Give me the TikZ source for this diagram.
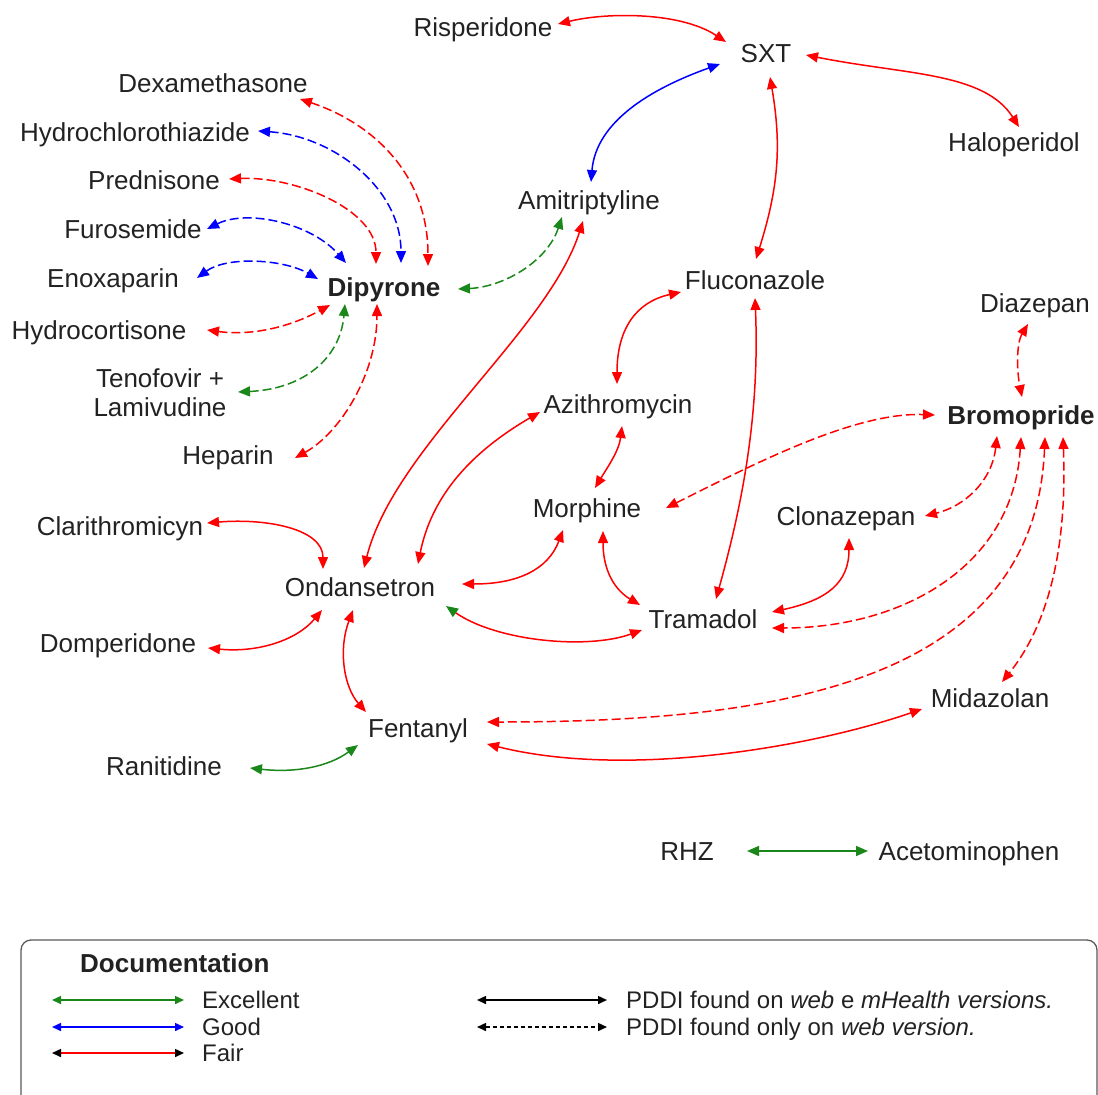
\documentclass[tikz,border=0pt]{standalone}
\usepackage{fontspec}
\setmainfont{Liberation Sans}
\usetikzlibrary{arrows.meta,calc}
\definecolor{cred}{RGB}{255,0,0}
\definecolor{cblue}{RGB}{0,0,255}
\definecolor{cgreen}{RGB}{25,135,25}
\definecolor{ctext}{RGB}{34,34,34}
\begin{document}
\begin{tikzpicture}[x=1pt,y=1pt,
  lbl/.style={font=\fontsize{26}{29}\selectfont, text=ctext, inner sep=0pt, anchor=base},
  blbl/.style={lbl, font=\fontsize{26}{29}\selectfont\bfseries},
  edge/.style={line width=1.5pt, >={Triangle[length=12pt,width=10pt]}, <->},
  dsh/.style={dash pattern=on 9pt off 4pt},
  fair/.style={edge, draw=cred},
  good/.style={edge, draw=cblue},
  exc/.style={edge, draw=cgreen},
  legt/.style={font=\fontsize{24}{28}\selectfont, text=ctext, inner sep=0pt, anchor=base west},
  legarr/.style={line width=1.5pt, >={Triangle[length=9pt,width=8pt]}, <->},
]
\useasboundingbox (0,0) rectangle (1098,-1095);
\clip (0,0) rectangle (1098,-1095);

% nodes
\node[lbl] (ris) at (483,-36) {Risperidone};
\node[lbl] (sxt) at (766,-62) {SXT};
\node[lbl] (hal) at (1014,-151) {Haloperidol};
\node[lbl] (dex) at (213,-92) {Dexamethasone};
\node[lbl] (hct) at (135,-141) {Hydrochlorothiazide};
\node[lbl] (pre) at (154,-189) {Prednisone};
\node[lbl] (fur) at (133,-238) {Furosemide};
\node[lbl] (eno) at (113,-287) {Enoxaparin};
\node[blbl] (dip) at (384,-296) {Dipyrone};
\node[lbl] (hyd) at (99,-339) {Hydrocortisone};
\node[lbl, anchor=center, align=center] (ten) at (160,-393) {Tenofovir +\\Lamivudine};
\node[lbl] (hep) at (228,-464) {Heparin};
\node[lbl] (ami) at (589,-209) {Amitriptyline};
\node[lbl] (flu) at (755,-289) {Fluconazole};
\node[lbl] (dia) at (1035,-312) {Diazepan};
\node[lbl] (azi) at (618,-413) {Azithromycin};
\node[blbl] (bro) at (1021,-424) {Bromopride};
\node[lbl] (mor) at (587,-517) {Morphine};
\node[lbl] (clo) at (846,-525) {Clonazepan};
\node[lbl] (cla) at (120,-535) {Clarithromicyn};
\node[lbl] (ond) at (360,-596) {Ondansetron};
\node[lbl] (tra) at (703,-628) {Tramadol};
\node[lbl] (dom) at (118,-652) {Domperidone};
\node[lbl] (mid) at (990,-707) {Midazolan};
\node[lbl] (fen) at (418,-737) {Fentanyl};
\node[lbl] (ran) at (164,-775) {Ranitidine};
\node[lbl] (rhz) at (687,-860) {RHZ};
\node[lbl] (ace) at (969,-860) {Acetominophen};

% Dipyrone cluster
\draw[fair,dsh] ($(dex.base)+(87,-7)$) .. controls +(75,-25) and +(0,90) .. ($(dip.base)+(44,30)$);
\draw[good,dsh] ($(hct.base)+(123,10)$) .. controls +(75,-5) and +(0,75) .. ($(dip.base)+(17,33)$);
\draw[fair,dsh] ($(pre.base)+(75,10)$) .. controls +(65,3) and +(0,55) .. ($(dip.base)+(-8,32)$);
\draw[good,dsh] ($(fur.base)+(74,9)$) .. controls +(40,20) and +(-35,40) .. ($(dip.base)+(-38,33)$);
\draw[good,dsh] ($(eno.base)+(84,9)$) .. controls +(30,22) and +(-35,20) .. ($(dip.base)+(-66,17)$);
\draw[fair,dsh] ($(hyd.base)+(108,9)$) .. controls +(45,-6) and +(-40,-22) .. ($(dip.base)+(-54,-9)$);
\draw[exc,dsh] ($(ten.center)+(78,1)$) .. controls +(65,3) and +(-5,-55) .. ($(dip.base)+(-39,-8)$);
\draw[fair,dsh] ($(hep.base)+(67,6)$) .. controls +(45,25) and +(0,-70) .. ($(dip.base)+(-7,-8)$);
\draw[exc,dsh] ($(dip.base)+(74,7)$) .. controls +(45,2) and +(-15,-45) .. ($(ami.base)+(-27,-8)$);

% SXT
\draw[good] ($(ami.base)+(2,27)$) .. controls +(5,60) and +(-70,-25) .. ($(sxt.base)+(-46,-2)$);
\draw[fair] ($(ris.base)+(75,12)$) .. controls +(50,12) and +(-45,30) .. ($(sxt.base)+(-40,20)$);
\draw[fair] ($(sxt.base)+(40,7)$) .. controls +(100,-20) and +(-35,55) .. ($(hal.base)+(5,24)$);
\draw[fair] ($(sxt.base)+(4,-15)$) .. controls +(12,-70) and +(22,70) .. ($(flu.base)+(1,30)$);

% center
\draw[fair] ($(ami.base)+(-6,-12)$) .. controls +(-35,-110) and +(30,120) .. ($(ond.base)+(4,28)$);
\draw[fair] ($(flu.base)+(-74,-3)$) .. controls +(-45,-10) and +(0,55) .. ($(azi.base)+(-1,29)$);
\draw[fair] ($(flu.base)+(0,-9)$) .. controls +(5,-120) and +(25,90) .. ($(tra.base)+(13,29)$);
\draw[fair] ($(azi.base)+(-78,1)$) .. controls +(-60,-35) and +(15,75) .. ($(ond.base)+(58,32)$);
\draw[fair] ($(azi.base)+(4,-13)$) .. controls +(-3,-25) and +(12,20) .. ($(mor.base)+(8,29)$);
\draw[fair,dsh] ($(mor.base)+(79,9)$) .. controls +(90,45) and +(-80,3) .. ($(bro.base)+(-86,9)$);
\draw[fair] ($(ond.base)+(102,12)$) .. controls +(55,0) and +(-15,-40) .. ($(mor.base)+(-24,-13)$);
\draw[fair] ($(mor.base)+(16,-14)$) .. controls +(0,-40) and +(-25,15) .. ($(tra.base)+(-63,23)$);
\draw[line width=1.5pt, draw=cred, {Triangle[length=12pt,width=10pt,color=cgreen]}-{Triangle[length=12pt,width=10pt,color=cred]}]
  ($(ond.base)+(86,-10)$) .. controls +(50,-35) and +(-55,-20) .. ($(tra.base)+(-61,-2)$);
\draw[fair] ($(clo.base)+(3,-13)$) .. controls +(0,-45) and +(55,12) .. ($(tra.base)+(69,16)$);

% Bromopride
\draw[fair,dsh] ($(bro.base)+(-24,-12)$) .. controls +(-5,-45) and +(40,10) .. ($(clo.base)+(79,9)$);
\draw[fair,dsh] ($(bro.base)+(0,-13)$) .. controls +(-8,-130) and +(130,0) .. ($(tra.base)+(69,0)$);
\draw[fair,dsh] ($(bro.base)+(24,-13)$) .. controls +(-10,-250) and +(280,0) .. ($(fen.base)+(69,15)$);
\draw[fair,dsh] ($(bro.base)+(42,-13)$) .. controls +(5,-130) and +(38,47) .. ($(mid.base)+(12,25)$);
\draw[fair,dsh] ($(dia.base)+(-7,-12)$) .. controls +(-12,-20) and +(-5,25) .. ($(bro.base)+(1,27)$);

% lower
\draw[fair] ($(fen.base)+(69,-7)$) .. controls +(140,-35) and +(-110,-38) .. ($(mid.base)+(-68,-2)$);
\draw[fair] ($(ond.base)+(-7,-14)$) .. controls +(-15,-40) and +(-22,25) .. ($(fen.base)+(-52,25)$);
\draw[fair] ($(cla.base)+(87,12)$) .. controls +(60,5) and +(0,40) .. ($(ond.base)+(-37,27)$);
\draw[fair] ($(dom.base)+(90,4)$) .. controls +(50,-5) and +(-25,-30) .. ($(ond.base)+(-38,-14)$);
\draw[exc] ($(ran.base)+(86,7)$) .. controls +(45,-5) and +(-30,-22) .. ($(fen.base)+(-60,-8)$);
\draw[exc] ($(rhz.base)+(60,9)$) -- ($(ace.base)+(-101,9)$);

% legend
\draw[draw=black!65, line width=1.3pt, rounded corners=10pt] (21,-940) rectangle (1097,-1110);
\node[legt, font=\fontsize{26}{30}\selectfont\bfseries] (ldoc) at (80,-972) {Documentation};
\coordinate (e1) at (52,-1000); \coordinate (e2) at (184,-1000);
\coordinate (g1) at (52,-1027); \coordinate (g2) at (184,-1027);
\coordinate (f1) at (52,-1053); \coordinate (f2) at (184,-1053);
\coordinate (s1) at (477,-1000); \coordinate (s2) at (607,-1000);
\coordinate (d1) at (477,-1027); \coordinate (d2) at (607,-1027);
\draw[legarr, draw=cgreen] (e1) -- (e2);
\draw[legarr, draw=cblue] (g1) -- (g2);
\draw[line width=1.5pt, draw=cred, {Triangle[length=9pt,width=8pt,color=black]}-{Triangle[length=9pt,width=8pt,color=black]}] (f1) -- (f2);
\draw[legarr, draw=black] (s1) -- (s2);
\draw[legarr, draw=black, dash pattern=on 4pt off 3pt] (d1) -- (d2);
\node[legt] (lexc) at (202,-1008) {Excellent};
\node[legt] (lgood) at (202,-1035) {Good};
\node[legt] (lfair) at (202,-1061) {Fair};
\node[legt] (lweb) at (626,-1008) {PDDI found on \textit{web} e \textit{mHealth versions.}};
\node[legt] (lonly) at (626,-1035) {PDDI found only on \textit{web version.}};
\end{tikzpicture}
\end{document}
